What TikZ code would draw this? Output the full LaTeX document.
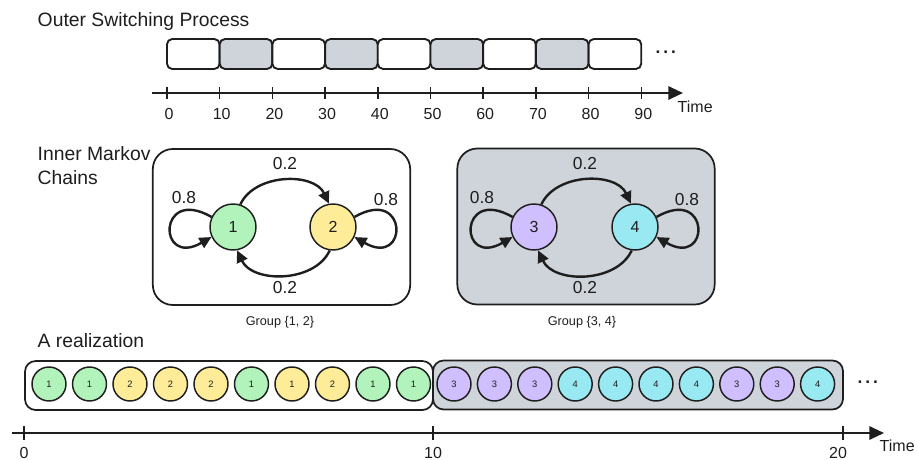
\documentclass[tikz,border=0pt]{standalone}
\usepackage{fontspec}
\setmainfont{Liberation Sans}
\usetikzlibrary{arrows.meta}

\definecolor{ink}{HTML}{1E1E1E}
\definecolor{panel}{HTML}{CED4DA}
\definecolor{sgreen}{HTML}{B2F2BB}
\definecolor{syellow}{HTML}{FFEC99}
\definecolor{spurple}{HTML}{D0BFFF}
\definecolor{scyan}{HTML}{99E9F2}

\tikzset{
  heading/.style={anchor=west, text=ink, font=\fontsize{14.5}{16}\selectfont},
  ticklabel/.style={text=ink, font=\fontsize{12}{14}\selectfont},
  problabel/.style={text=ink, font=\fontsize{13}{15}\selectfont},
  grouplabel/.style={text=ink, font=\fontsize{9.5}{11}\selectfont},
  slot/.style={draw=ink, line width=1.4pt, rounded corners=4pt,
    minimum width=39.5pt, minimum height=22.5pt, inner sep=0pt},
  groupbox/.style={draw=ink, line width=1.3pt, rounded corners=15pt,
    minimum width=193pt, minimum height=117pt, inner sep=0pt},
  runbox/.style={draw=ink, line width=1.3pt, rounded corners=8pt,
    minimum height=36.75pt, inner sep=0pt},
  state/.style={circle, draw=ink, line width=1.1pt, minimum size=34.5pt,
    inner sep=0pt, text=ink, font=\fontsize{12}{14}\selectfont},
  sample/.style={circle, draw=ink, line width=1.1pt, minimum size=25.5pt,
    inner sep=0pt, text=ink, font=\fontsize{7}{8}\selectfont},
  trans/.style={draw=ink, line width=1.8pt,
    -{Triangle[length=9pt,width=8.5pt]}},
  axis/.style={draw=ink, line width=1.5pt,
    -{Triangle[length=11pt,width=10pt]}},
  tick/.style={draw=ink, line width=1.1pt},
  dots/.style={text=ink, font=\bfseries\fontsize{13}{14}\selectfont}
}

\begin{document}
\begin{tikzpicture}[x=0.75pt, y=-0.75pt]
  \useasboundingbox (0,0) rectangle (917,460);

  % ---------- outer switching process ----------
  \node[heading] (titleA) at (33,22) {Outer Switching Process};
  \foreach \i in {0,...,8} {
    \pgfmathsetmacro{\cx}{193.3+52.7*\i}
    \pgfmathtruncatemacro{\odd}{mod(\i,2)}
    \ifnum\odd=1
      \node[slot, fill=panel] (slot\i) at (\cx,54) {};
    \else
      \node[slot, fill=white] (slot\i) at (\cx,54) {};
    \fi
  }
  \node[dots, anchor=west] (moreA) at (651,52) {.\,.\,.};

  \coordinate (axA0) at (152,93);
  \coordinate (axA1) at (683,93);
  \draw[axis] (axA0) -- (axA1);
  \foreach \i in {0,...,9} {
    \pgfmathsetmacro{\tx}{167+52.7*\i}
    \pgfmathtruncatemacro{\tv}{10*\i}
    \draw[tick] (\tx,87) -- (\tx,99);
    \node[ticklabel] (tA\i) at (\tx+2,114) {\tv};
  }
  \node[ticklabel, anchor=west] (timeA) at (673,107) {Time};

  % ---------- inner Markov chains ----------
  \node[heading] (titleB) at (33,154) {Inner Markov};
  \node[heading] (titleB2) at (33,178) {Chains};

  \node[groupbox, fill=white] (g1) at (281.5,227) {};
  \node[groupbox, fill=panel] (g2) at (586,226.5) {};

  \node[state, fill=sgreen]  (s1) at (233,227) {1};
  \node[state, fill=syellow] (s2) at (333,227) {2};
  \node[state, fill=spurple] (s3) at (534,227) {3};
  \node[state, fill=scyan]   (s4) at (635,227) {4};

  % transitions between the two states of each group
  \draw[trans] (s1.72) to[out=65,in=115] (s2.100);
  \draw[trans] (s2.262) to[out=-115,in=-65] (s1.280);
  \draw[trans] (s3.72) to[out=65,in=115] (s4.100);
  \draw[trans] (s4.262) to[out=-115,in=-65] (s3.280);

  % self loops
  \draw[trans] (s1.155) to[out=150,in=210,looseness=8] (s1.205);
  \draw[trans] (s2.25) to[out=30,in=-30,looseness=8] (s2.-25);
  \draw[trans] (s3.155) to[out=150,in=210,looseness=8] (s3.205);
  \draw[trans] (s4.25) to[out=30,in=-30,looseness=8] (s4.-25);

  \node[problabel] (p12) at (285,164) {0.2};
  \node[problabel] (p21) at (285,288) {0.2};
  \node[problabel] (p11) at (184,198) {0.8};
  \node[problabel] (p22) at (386,200) {0.8};
  \node[problabel] (p34) at (585,164) {0.2};
  \node[problabel] (p43) at (585,288) {0.2};
  \node[problabel] (p33) at (482,198) {0.8};
  \node[problabel] (p44) at (687,200) {0.8};

  \node[grouplabel] (gl1) at (280,322) {Group \{1, 2\}};
  \node[grouplabel] (gl2) at (582,322) {Group \{3, 4\}};

  % ---------- a realization ----------
  \node[heading] (titleC) at (33,341) {A realization};
  \node[runbox, fill=white, minimum width=306pt] (r1) at (229,385.5) {};
  \node[runbox, fill=panel, minimum width=307.5pt] (r2) at (638,385) {};

  \foreach \v/\c [count=\k from 0] in {1/sgreen,1/sgreen,2/syellow,2/syellow,2/syellow,
      1/sgreen,1/syellow,2/syellow,1/sgreen,1/sgreen} {
    \node[sample, fill=\c] (a\k) at (49+40.5*\k,384) {\v};
  }
  \foreach \v/\c [count=\k from 0] in {3/spurple,3/spurple,3/spurple,4/scyan,4/scyan,
      4/scyan,4/scyan,3/spurple,3/spurple,4/scyan} {
    \node[sample, fill=\c] (b\k) at (454+40.4*\k,384) {\v};
  }
  \node[dots, anchor=west] (moreC) at (853,382) {.\,.\,.};

  \coordinate (axC0) at (12,433);
  \coordinate (axC1) at (884,433);
  \draw[axis] (axC0) -- (axC1);
  \foreach \x in {24,433,843} {
    \draw[tick] (\x,426) -- (\x,440);
  }
  \node[ticklabel] (tC0) at (24,453) {0};
  \node[ticklabel] (tC1) at (433,453) {10};
  \node[ticklabel] (tC2) at (838,453) {20};
  \node[ticklabel, anchor=west] (timeC) at (875,446) {Time};
\end{tikzpicture}
\end{document}
